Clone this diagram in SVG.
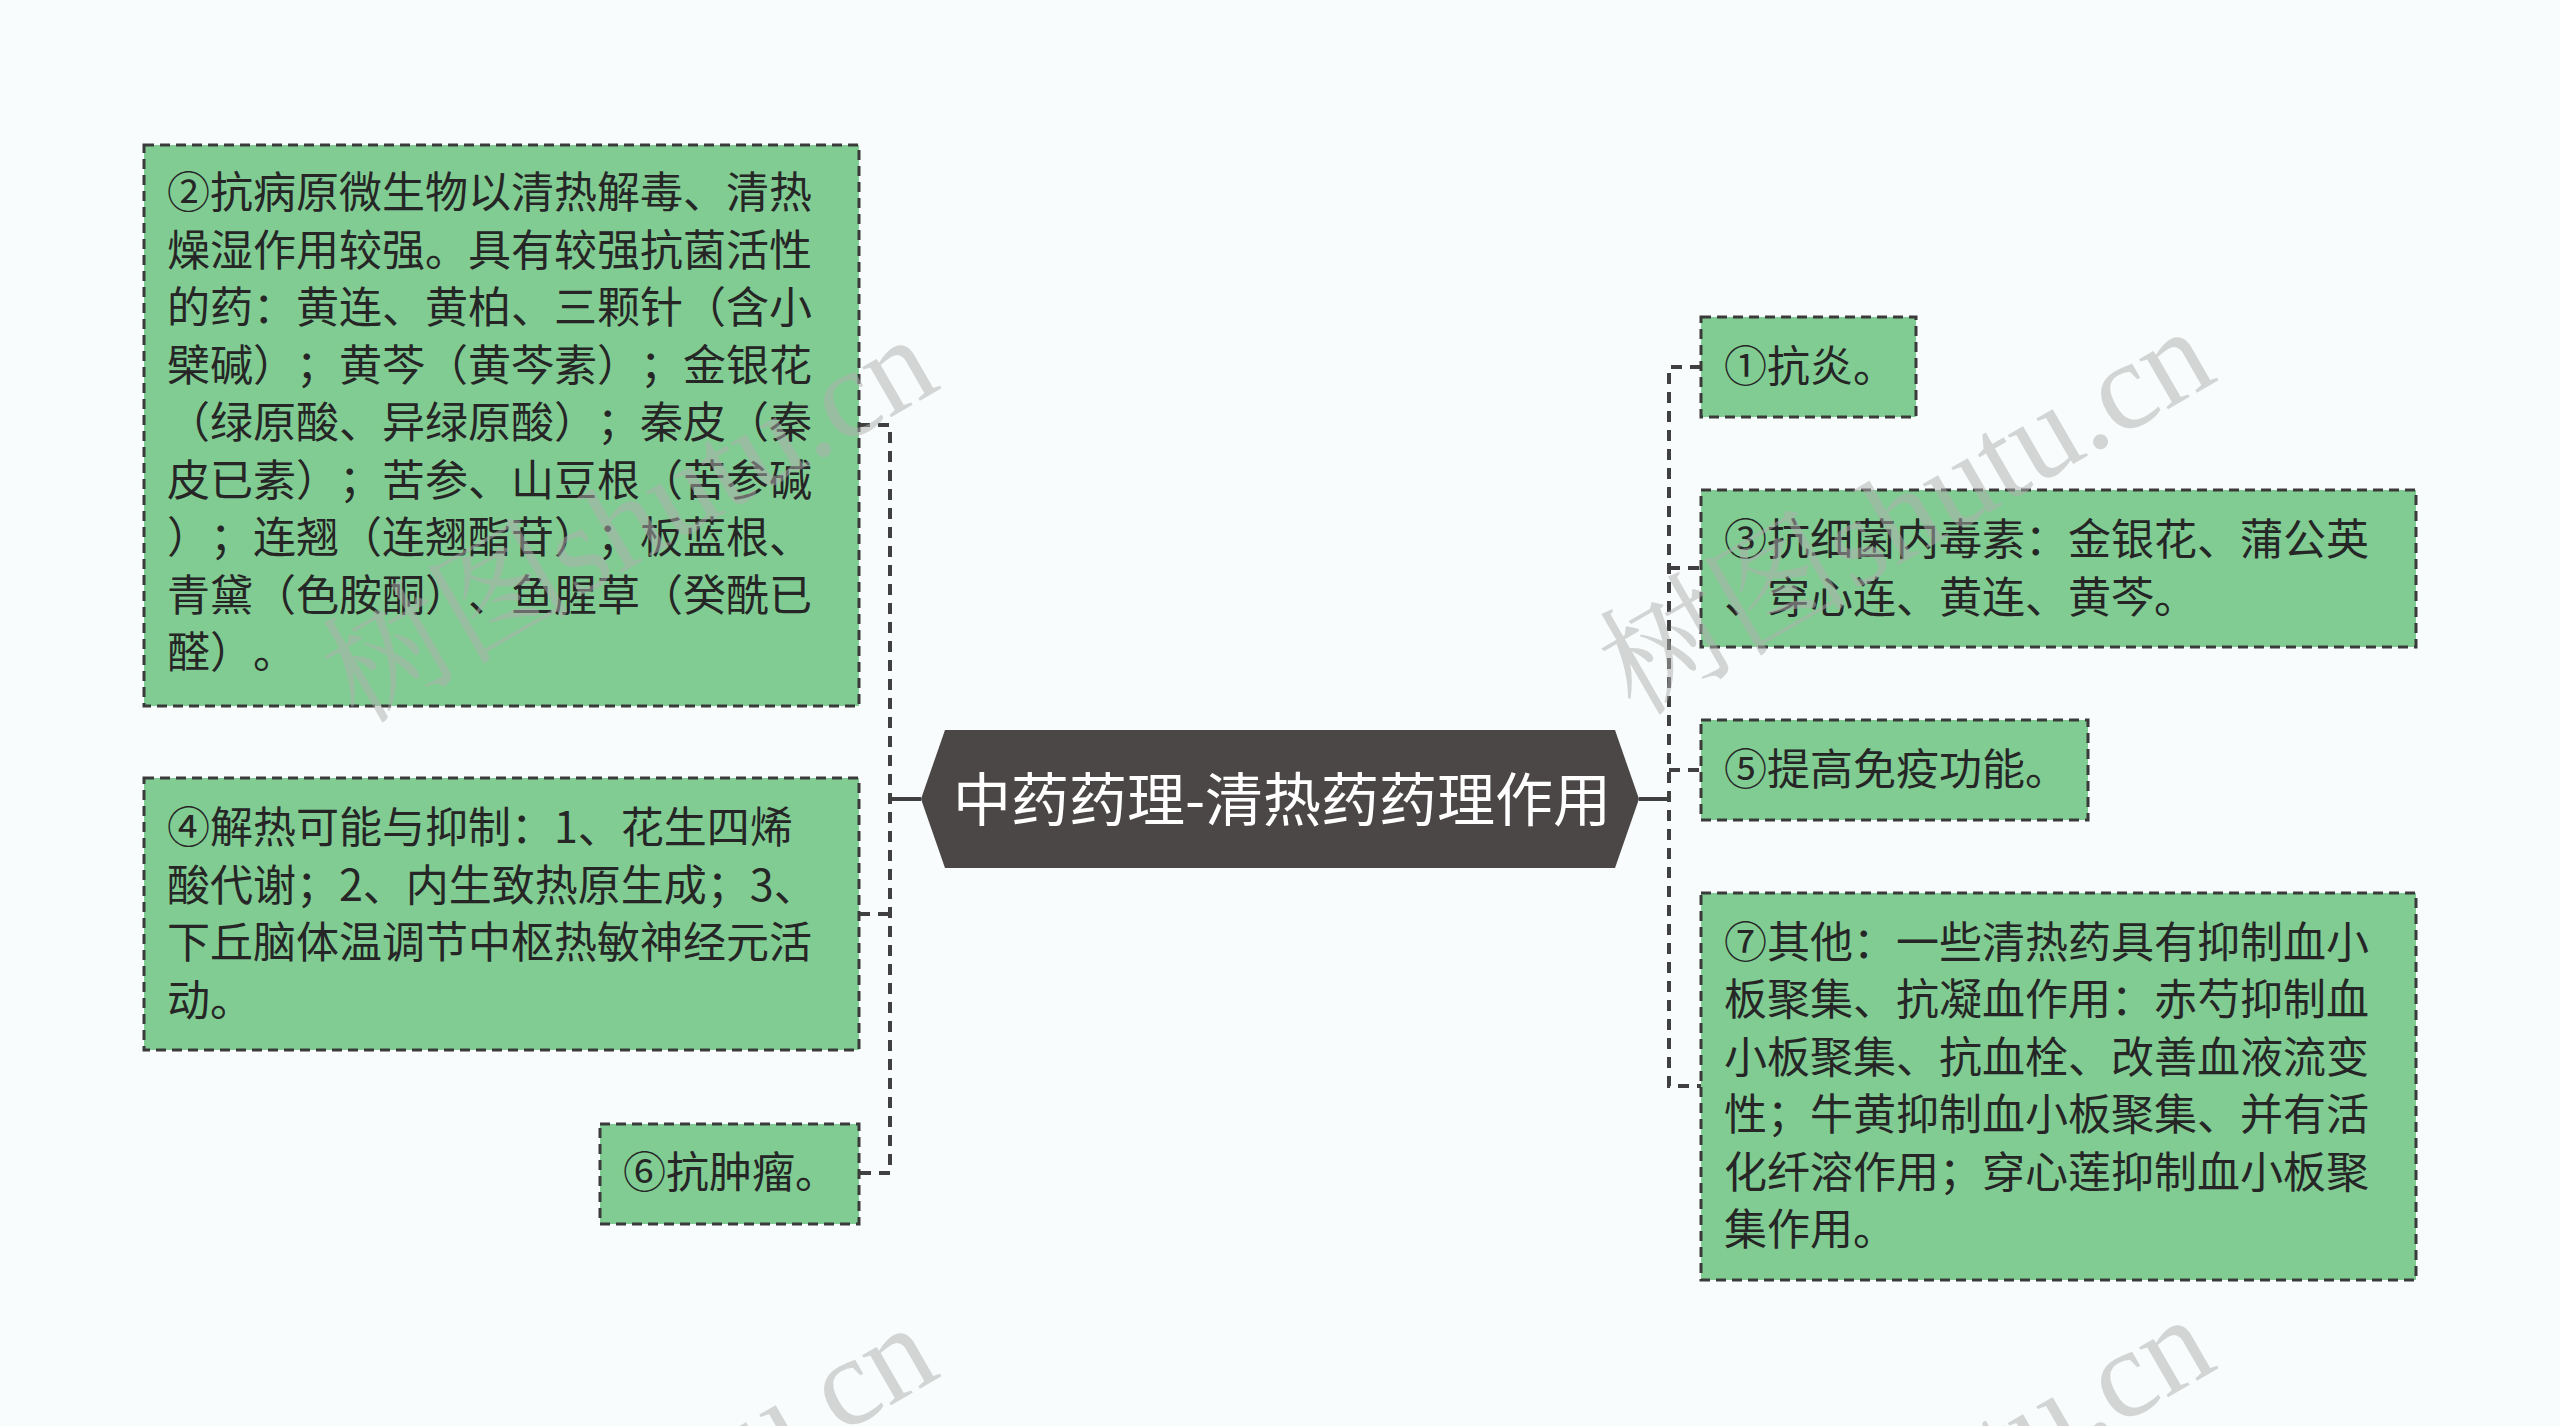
<svg xmlns="http://www.w3.org/2000/svg" width="2560" height="1426" viewBox="0 0 2560 1426">
<style>
.bg{fill:#f8fcfc}
.box{fill:#80cc92;stroke:#3a3a3a;stroke-width:3;stroke-dasharray:10 6}
.t{font-family:"Noto Sans CJK SC","Noto Sans",sans-serif;font-size:43px;fill:#262626;text-spacing-trim:space-all}
.root{fill:#4c4747}
.rt{font-family:"Noto Sans CJK SC","Noto Sans",sans-serif;font-size:58px;fill:#ffffff;text-anchor:middle}
.dash{fill:none;stroke:#404040;stroke-width:4;stroke-dasharray:11 8}
.solid{fill:none;stroke:#404040;stroke-width:4}
.wm{font-family:"Liberation Serif","Noto Serif CJK SC","Noto Sans CJK SC",serif;font-size:126px;fill:#b0b0b0;opacity:0.5}
</style>
<rect class="bg" x="0" y="0" width="2560" height="1426"/>
<g id="connectors">
<path class="dash" d="M859,425 H890 V1173 H859"/>
<path class="dash" d="M859,914 H890"/>
<path class="solid" d="M890,799 H921"/>
<path class="dash" d="M1701,367 H1669 V1086 H1701"/>
<path class="dash" d="M1669,568 H1701"/>
<path class="dash" d="M1669,770 H1701"/>
<path class="solid" d="M1639,799 H1669"/>
</g>
<g id="root">
<polygon class="root" points="945,730 1615,730 1639,799 1615,868 945,868 921,799"/>
<text class="rt" x="1282" y="821">中药药理-清热药药理作用</text>
</g>
<g id="node2">
<rect class="box" x="144" y="145" width="715" height="561"/>
<text class="t" x="167" y="208">②抗病原微生物以清热解毒、清热</text>
<text class="t" x="167" y="265.5">燥湿作用较强。具有较强抗菌活性</text>
<text class="t" x="167" y="323">的药：黄连、黄柏、三颗针（含小</text>
<text class="t" x="167" y="380.5">檗碱）；黄芩（黄芩素）；金银花</text>
<text class="t" x="167" y="438">（绿原酸、异绿原酸）；秦皮（秦</text>
<text class="t" x="167" y="495.5">皮已素）；苦参、山豆根（苦参碱</text>
<text class="t" x="167" y="553">）；连翘（连翘酯苷）；板蓝根、</text>
<text class="t" x="167" y="610.5">青黛（色胺酮）、鱼腥草（癸酰已</text>
<text class="t" x="167" y="668">醛）。</text>
</g>
<g id="node4">
<rect class="box" x="144" y="778" width="715" height="272"/>
<text class="t" x="167" y="843">④解热可能与抑制：1、花生四烯</text>
<text class="t" x="167" y="900.5">酸代谢；2、内生致热原生成；3、</text>
<text class="t" x="167" y="958">下丘脑体温调节中枢热敏神经元活</text>
<text class="t" x="167" y="1015.5">动。</text>
</g>
<g id="node6">
<rect class="box" x="600" y="1124" width="259" height="100"/>
<text class="t" x="623" y="1188">⑥抗肿瘤。</text>
</g>
<g id="node1">
<rect class="box" x="1701" y="317" width="215" height="100"/>
<text class="t" x="1724" y="382">①抗炎。</text>
</g>
<g id="node3">
<rect class="box" x="1701" y="490" width="715" height="157"/>
<text class="t" x="1724" y="555">③抗细菌内毒素：金银花、蒲公英</text>
<text class="t" x="1724" y="612.5">、穿心连、黄连、黄芩。</text>
</g>
<g id="node5">
<rect class="box" x="1701" y="720" width="387" height="100"/>
<text class="t" x="1724" y="785">⑤提高免疫功能。</text>
</g>
<g id="node7">
<rect class="box" x="1701" y="893" width="715" height="387"/>
<text class="t" x="1724" y="957.5">⑦其他：一些清热药具有抑制血小</text>
<text class="t" x="1724" y="1015">板聚集、抗凝血作用：赤芍抑制血</text>
<text class="t" x="1724" y="1072.5">小板聚集、抗血栓、改善血液流变</text>
<text class="t" x="1724" y="1130">性；牛黄抑制血小板聚集、并有活</text>
<text class="t" x="1724" y="1187.5">化纤溶作用；穿心莲抑制血小板聚</text>
<text class="t" x="1724" y="1245">集作用。</text>
</g>
<g id="watermarks">
<text class="wm" transform="translate(358,725) rotate(-30)">树图shutu.cn</text>
<text class="wm" transform="translate(1635,717) rotate(-30)">树图shutu.cn</text>
<text class="wm" transform="translate(358,1713) rotate(-30)">树图shutu.cn</text>
<text class="wm" transform="translate(1635,1705) rotate(-30)">树图shutu.cn</text>
</g>
</svg>
